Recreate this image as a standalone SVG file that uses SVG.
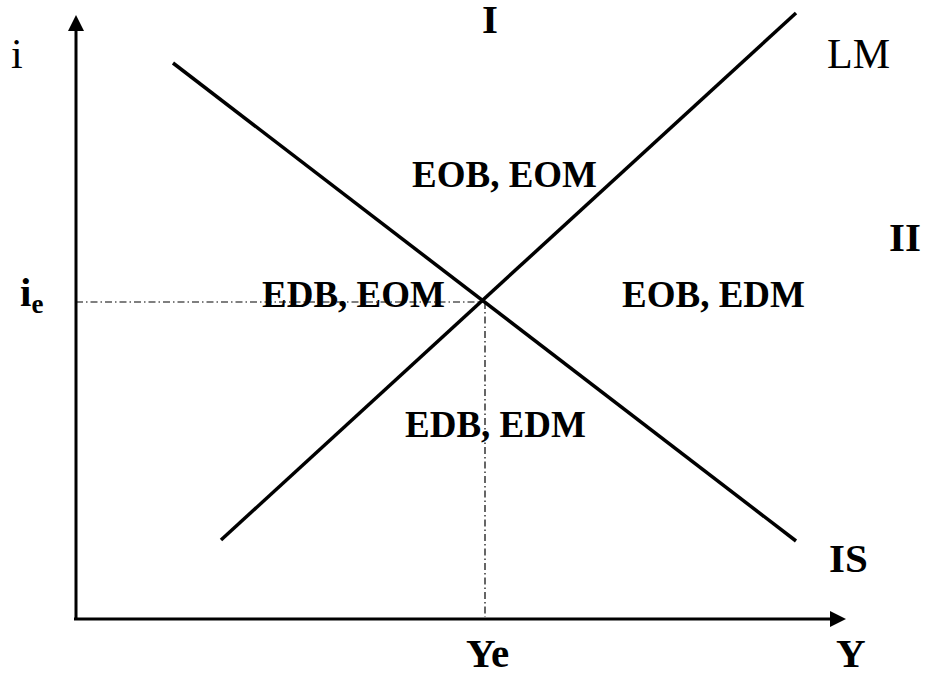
<svg xmlns="http://www.w3.org/2000/svg" width="928" height="673" viewBox="0 0 928 673">
<style>
.ax{stroke:#000;stroke-width:3;fill:none}
.cv{stroke:#000;stroke-width:3.5;fill:none;stroke-linecap:butt}
.dd{stroke:#000;stroke-width:1.2;fill:none;stroke-dasharray:7 3 1.5 3}
.r{font-family:"Liberation Serif","Times New Roman",serif;font-size:42px;fill:#000}
.b{font-family:"Liberation Serif","Times New Roman",serif;font-weight:bold;fill:#000}
.lb{font-size:37px}
.bg{font-size:41px}
</style>
<rect width="928" height="673" fill="#fff"/>
<g id="connectors">
<line class="dd" x1="76" y1="302" x2="483" y2="302"/>
<line class="dd" x1="485" y1="302" x2="485" y2="617"/>
<line class="ax" x1="76" y1="620" x2="76" y2="28"/>
<polygon points="76,15 68,31 84,31" fill="#000"/>
<line class="ax" x1="74" y1="619" x2="832" y2="619"/>
<polygon points="846,619 830,611 830,627" fill="#000"/>
</g>
<g id="IS"><line class="cv" x1="173" y1="63" x2="796" y2="541"/></g>
<g id="LM"><line class="cv" x1="221" y1="540" x2="796" y2="13"/></g>
<g id="labels">
<text class="r" x="11" y="68">i</text>
<text class="r" x="827" y="68">LM</text>
<text class="b bg" x="20" y="306">i<tspan font-size="27" dy="7">e</tspan></text>
<text class="b bg" x="482" y="33">I</text>
<text class="b bg" x="889" y="251">II</text>
<text class="b bg" x="829" y="572">IS</text>
<text class="b bg" x="466" y="667">Ye</text>
<text class="b bg" x="836" y="667">Y</text>
<text class="b lb" x="412" y="187">EOB, EOM</text>
<text class="b lb" x="262" y="307">EDB, EOM</text>
<text class="b lb" x="622" y="307">EOB, EDM</text>
<text class="b lb" x="405" y="437">EDB, EDM</text>
</g>
</svg>
